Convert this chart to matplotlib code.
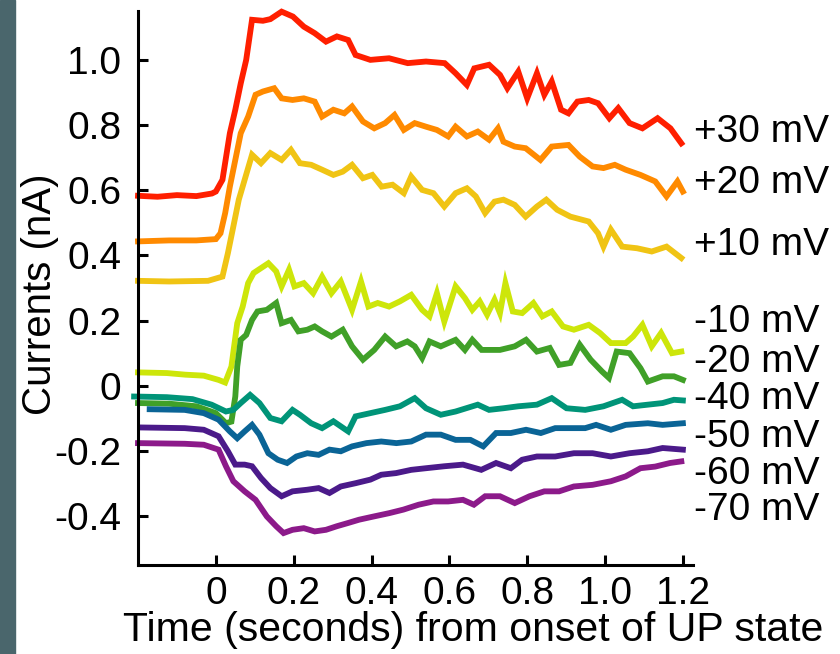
import matplotlib.pyplot as plt
from matplotlib.patches import Rectangle

plt.rcParams['font.family'] = ['Liberation Sans', 'DejaVu Sans']

# traces: time (s) and current (nA)
t_p30 = [-0.2, -0.15, -0.1, -0.05, -0.01, 0.0, 0.017, 0.036, 0.05, 0.064, 0.078, 0.093, 0.121, 0.14,
         0.169, 0.198, 0.226, 0.254, 0.283, 0.311, 0.34, 0.359, 0.397, 0.445, 0.493, 0.54, 0.588, 0.616,
         0.645, 0.664, 0.702, 0.73, 0.749, 0.777, 0.8, 0.825, 0.844, 0.863, 0.887, 0.906, 0.929, 0.958,
         0.982, 1.011, 1.034, 1.063, 1.096, 1.135, 1.168, 1.196]
i_p30 = [0.583, 0.58, 0.585, 0.582, 0.59, 0.596, 0.632, 0.775, 0.847, 0.928, 1.0, 1.123, 1.12, 1.125,
         1.148, 1.133, 1.102, 1.082, 1.056, 1.072, 1.061, 1.015, 1.0, 1.005, 0.99, 0.995, 0.99, 0.959,
         0.923, 0.974, 0.985, 0.954, 0.913, 0.964, 0.882, 0.959, 0.893, 0.934, 0.847, 0.836, 0.872, 0.877,
         0.867, 0.821, 0.852, 0.806, 0.79, 0.821, 0.79, 0.744]

t_p20 = [-0.2, -0.12, -0.05, 0.0, 0.012, 0.024, 0.036, 0.05, 0.064, 0.083, 0.102, 0.121, 0.15, 0.169,
         0.197, 0.226, 0.254, 0.273, 0.302, 0.33, 0.35, 0.378, 0.407, 0.435, 0.459, 0.483, 0.511, 0.54,
         0.568, 0.597, 0.616, 0.645, 0.673, 0.702, 0.725, 0.739, 0.768, 0.796, 0.834, 0.863, 0.906, 0.935,
         0.968, 0.996, 1.025, 1.053, 1.091, 1.129, 1.158, 1.186, 1.2]
i_p20 = [0.443, 0.446, 0.446, 0.45, 0.468, 0.53, 0.611, 0.693, 0.775, 0.826, 0.893, 0.903, 0.913, 0.882,
         0.877, 0.882, 0.872, 0.826, 0.847, 0.836, 0.857, 0.811, 0.79, 0.806, 0.831, 0.785, 0.806, 0.795,
         0.785, 0.765, 0.795, 0.765, 0.78, 0.755, 0.79, 0.749, 0.734, 0.729, 0.693, 0.734, 0.739, 0.703,
         0.673, 0.668, 0.678, 0.663, 0.647, 0.627, 0.581, 0.627, 0.596]

t_p10 = [-0.2, -0.12, -0.02, 0.017, 0.031, 0.045, 0.059, 0.074, 0.093, 0.116, 0.14, 0.169, 0.193, 0.216,
         0.245, 0.273, 0.302, 0.326, 0.35, 0.378, 0.402, 0.426, 0.454, 0.483, 0.502, 0.53, 0.559, 0.587,
         0.616, 0.645, 0.668, 0.692, 0.716, 0.739, 0.768, 0.796, 0.825, 0.849, 0.877, 0.911, 0.958, 0.982,
         0.996, 1.015, 1.044, 1.082, 1.12, 1.158, 1.196]
i_p10 = [0.322, 0.32, 0.322, 0.335, 0.407, 0.489, 0.571, 0.632, 0.709, 0.683, 0.714, 0.693, 0.724, 0.683,
         0.678, 0.663, 0.647, 0.657, 0.678, 0.637, 0.647, 0.611, 0.617, 0.591, 0.642, 0.601, 0.591, 0.55,
         0.591, 0.606, 0.581, 0.53, 0.565, 0.571, 0.555, 0.519, 0.55, 0.571, 0.54, 0.519, 0.504, 0.468,
         0.427, 0.479, 0.427, 0.422, 0.412, 0.427, 0.392]

t_m10 = [-0.2, -0.126, -0.078, -0.031, 0.007, 0.024, 0.04, 0.055, 0.069, 0.083, 0.097, 0.116, 0.135,
         0.155, 0.169, 0.188, 0.202, 0.226, 0.25, 0.273, 0.297, 0.321, 0.35, 0.373, 0.392, 0.416, 0.445,
         0.473, 0.502, 0.53, 0.549, 0.568, 0.587, 0.616, 0.64, 0.659, 0.678, 0.697, 0.716, 0.73, 0.744,
         0.763, 0.787, 0.816, 0.839, 0.863, 0.892, 0.92, 0.958, 0.987, 1.015, 1.053, 1.072, 1.096, 1.12,
         1.144, 1.172, 1.196]
i_m10 = [0.041, 0.039, 0.034, 0.031, 0.018, 0.01, 0.059, 0.192, 0.243, 0.315, 0.346, 0.361, 0.376,
         0.351, 0.305, 0.356, 0.305, 0.315, 0.284, 0.335, 0.284, 0.32, 0.233, 0.32, 0.243, 0.254, 0.243,
         0.259, 0.279, 0.233, 0.213, 0.284, 0.197, 0.305, 0.269, 0.233, 0.259, 0.218, 0.264, 0.223, 0.315,
         0.228, 0.223, 0.254, 0.213, 0.228, 0.182, 0.172, 0.187, 0.162, 0.131, 0.131, 0.151, 0.187, 0.121,
         0.162, 0.1, 0.105]

t_m20 = [-0.2, -0.12, -0.05, 0.0, 0.026, 0.04, 0.05, 0.055, 0.064, 0.078, 0.093, 0.107, 0.131, 0.155,
         0.169, 0.193, 0.212, 0.235, 0.254, 0.273, 0.297, 0.326, 0.35, 0.378, 0.407, 0.435, 0.463, 0.492,
         0.511, 0.53, 0.549, 0.578, 0.616, 0.64, 0.659, 0.683, 0.73, 0.768, 0.797, 0.825, 0.858, 0.882,
         0.911, 0.935, 0.963, 0.992, 1.01, 1.03, 1.063, 1.091, 1.11, 1.148, 1.177, 1.2]
i_m20 = [-0.053, -0.055, -0.063, -0.084, -0.115, -0.11, -0.033, 0.059, 0.141, 0.156, 0.202, 0.228,
         0.233, 0.254, 0.192, 0.202, 0.167, 0.172, 0.182, 0.167, 0.151, 0.172, 0.121, 0.08, 0.11, 0.151,
         0.121, 0.136, 0.121, 0.085, 0.136, 0.121, 0.141, 0.11, 0.141, 0.11, 0.11, 0.121, 0.141, 0.105,
         0.116, 0.064, 0.07, 0.126, 0.08, 0.044, 0.024, 0.105, 0.1, 0.054, 0.013, 0.029, 0.029, 0.018]

t_m40 = [-0.21, -0.126, -0.06, -0.011, 0.026, 0.045, 0.064, 0.088, 0.112, 0.14, 0.169, 0.197, 0.216,
         0.245, 0.273, 0.302, 0.34, 0.359, 0.397, 0.435, 0.473, 0.511, 0.54, 0.578, 0.616, 0.673, 0.702,
         0.739, 0.777, 0.825, 0.863, 0.901, 0.949, 0.996, 1.044, 1.072, 1.11, 1.148, 1.177, 1.2]
i_m40 = [-0.033, -0.035, -0.041, -0.058, -0.079, -0.074, -0.053, -0.028, -0.053, -0.099, -0.109,
         -0.074, -0.089, -0.115, -0.13, -0.109, -0.14, -0.094, -0.084, -0.074, -0.063, -0.038, -0.069,
         -0.089, -0.079, -0.058, -0.074, -0.069, -0.063, -0.058, -0.038, -0.069, -0.074, -0.063, -0.043,
         -0.063, -0.058, -0.053, -0.043, -0.045]

t_m50 = [-0.17, -0.08, -0.031, 0.007, 0.036, 0.055, 0.074, 0.093, 0.112, 0.135, 0.159, 0.183, 0.207,
         0.235, 0.264, 0.292, 0.321, 0.35, 0.387, 0.425, 0.464, 0.502, 0.54, 0.578, 0.616, 0.654, 0.687,
         0.72, 0.758, 0.797, 0.835, 0.872, 0.911, 0.949, 0.977, 1.015, 1.053, 1.11, 1.148, 1.2]
i_m50 = [-0.072, -0.074, -0.084, -0.104, -0.14, -0.161, -0.14, -0.12, -0.15, -0.207, -0.227, -0.237,
         -0.217, -0.207, -0.212, -0.196, -0.201, -0.186, -0.176, -0.171, -0.176, -0.171, -0.15, -0.15,
         -0.166, -0.166, -0.186, -0.145, -0.145, -0.135, -0.145, -0.13, -0.13, -0.13, -0.12, -0.135,
         -0.12, -0.115, -0.12, -0.115]

t_m60 = [-0.19, -0.08, -0.031, 0.007, 0.031, 0.05, 0.074, 0.093, 0.116, 0.14, 0.169, 0.197, 0.235,
         0.264, 0.292, 0.321, 0.359, 0.397, 0.425, 0.463, 0.502, 0.54, 0.587, 0.635, 0.682, 0.72, 0.758,
         0.787, 0.825, 0.872, 0.92, 0.968, 1.015, 1.063, 1.11, 1.148, 1.2]
i_m60 = [-0.128, -0.13, -0.135, -0.155, -0.201, -0.242, -0.242, -0.247, -0.283, -0.314, -0.339, -0.324,
         -0.319, -0.314, -0.329, -0.309, -0.299, -0.288, -0.273, -0.268, -0.258, -0.253, -0.247, -0.242,
         -0.258, -0.237, -0.253, -0.227, -0.217, -0.217, -0.207, -0.207, -0.217, -0.207, -0.201, -0.191,
         -0.196]

t_m70 = [-0.2, -0.08, -0.031, 0.007, 0.026, 0.045, 0.074, 0.102, 0.131, 0.155, 0.174, 0.197, 0.226,
         0.254, 0.283, 0.311, 0.34, 0.368, 0.406, 0.445, 0.482, 0.521, 0.559, 0.597, 0.635, 0.663, 0.692,
         0.73, 0.768, 0.806, 0.844, 0.882, 0.92, 0.968, 1.015, 1.053, 1.091, 1.129, 1.167, 1.196]
i_m70 = [-0.176, -0.178, -0.181, -0.196, -0.247, -0.293, -0.324, -0.35, -0.401, -0.431, -0.452, -0.442,
         -0.437, -0.447, -0.442, -0.431, -0.421, -0.411, -0.401, -0.391, -0.38, -0.365, -0.355, -0.355,
         -0.35, -0.365, -0.339, -0.339, -0.36, -0.339, -0.324, -0.324, -0.309, -0.304, -0.293, -0.278,
         -0.253, -0.248, -0.237, -0.232]

labels = ['+30 mV', '+20 mV', '+10 mV', '-10 mV', '-20 mV', '-40 mV', '-50 mV', '-60 mV', '-70 mV']
colors = ['#ff1f00', '#ff8a00', '#f0c414', '#cde60a', '#40a028', '#009478', '#0a6496', '#4b1a8a', '#8c1a8a']
label_y = [0.779, 0.623, 0.433, 0.196, 0.074, -0.042, -0.158, -0.270, -0.382]

xticks = [0, 0.2, 0.4, 0.6, 0.8, 1.0, 1.2]
xticklabels = ['0', '0.2', '0.4', '0.6', '0.8', '1.0', '1.2']
yticks = [-0.4, -0.2, 0, 0.2, 0.4, 0.6, 0.8, 1.0]
yticklabels = ['-0.4', '-0.2', '0', '0.2', '0.4', '0.6', '0.8', '1.0']

traces = [(t_p30, i_p30), (t_p20, i_p20), (t_p10, i_p10), (t_m10, i_m10), (t_m20, i_m20),
          (t_m40, i_m40), (t_m50, i_m50), (t_m60, i_m60), (t_m70, i_m70)]

fig = plt.figure(figsize=(8.4, 6.54), dpi=100)
# dark slide background strip on the left
fig.patches.append(Rectangle((0, 0), 15 / 840, 1, transform=fig.transFigure, color='#4a666c', zorder=0))

ax = fig.add_axes([138 / 840, 1 - 565 / 654, 555 / 840, 554 / 654])
for (t, i), c in zip(traces, colors):
    ax.plot(t, i, color=c, lw=4.2, solid_joinstyle='miter', clip_on=False)

for lab, y in zip(labels, label_y):
    ax.text(1.229, y, lab, fontsize=28, va='center', ha='left', clip_on=False)

ax.set_xlim(-0.2, 1.226)
ax.set_ylim(-0.55, 1.15)
ax.set_xticks(xticks)
ax.set_xticklabels(xticklabels)
ax.set_yticks(yticks)
ax.set_yticklabels(yticklabels)
ax.tick_params(direction='in', length=7, width=2.2, labelsize=28)
ax.tick_params(axis='y', pad=12)
ax.tick_params(axis='x', pad=8)
for s in ['top', 'right']:
    ax.spines[s].set_visible(False)
for s in ['left', 'bottom']:
    ax.spines[s].set_linewidth(2.2)

fig.text(473 / 840, 1 - 630 / 654, 'Time (seconds) from onset of UP state', fontsize=29.5,
         ha='center', va='center')
fig.text(40 / 840, 1 - 294 / 654, 'Currents (nA)', fontsize=29, rotation=90, ha='center', va='center')

fig.savefig('out.png', dpi=100)
